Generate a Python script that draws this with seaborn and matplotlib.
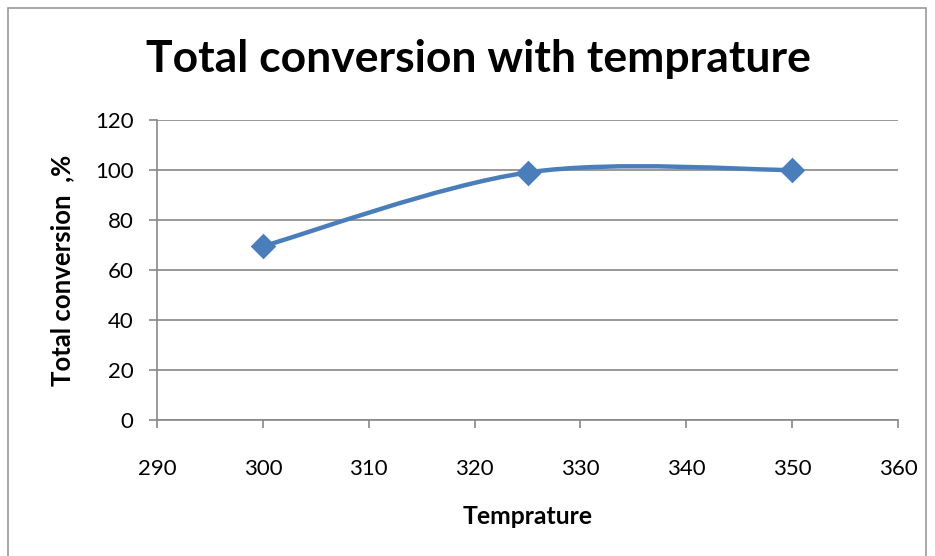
import matplotlib
matplotlib.use("Agg")
import matplotlib.pyplot as plt
import seaborn as sns
import numpy as np
import pandas as pd
from matplotlib.path import Path
from matplotlib.patches import PathPatch, Rectangle

# Data
temperature = [300, 325, 350]
conversion = [69.5, 99, 100]
x_ticks = [290, 300, 310, 320, 330, 340, 350, 360]
y_ticks = [0, 20, 40, 60, 80, 100, 120]
title = "Total conversion with temprature"
x_label = "Temprature"
y_label = "Total conversion  ,%"

sns.set_theme(style="white")
plt.rcParams['font.family'] = ['Lato', 'DejaVu Sans']

BLUE = "#4A7EBB"
GRID = "#888888"

fig = plt.figure(figsize=(9.35, 5.56), dpi=100)
ax = fig.add_axes([157/935, 1-420/556, (898-157)/935, 300/556])

df = pd.DataFrame({"T": temperature, "C": conversion})

# Smoothed line (Excel-style Catmull-Rom Bezier) built from the data points
pts = np.column_stack([temperature, conversion]).astype(float)
n = len(pts)
verts = [tuple(pts[0])]
codes = [Path.MOVETO]
for i in range(n - 1):
    p0 = pts[i - 1] if i > 0 else pts[i]
    p1 = pts[i]
    p2 = pts[i + 1]
    p3 = pts[i + 2] if i + 2 < n else pts[i + 1]
    c1 = p1 + (p2 - p0) / 6
    c2 = p2 - (p3 - p1) / 6
    verts += [tuple(c1), tuple(c2), tuple(p2)]
    codes += [Path.CURVE4] * 3
ax.add_patch(PathPatch(Path(verts, codes), facecolor="none", edgecolor=BLUE,
                       lw=3.2, capstyle="round", joinstyle="round", zorder=3))

sns.scatterplot(data=df, x="T", y="C", ax=ax, marker="D", s=170, color=BLUE,
                edgecolor=BLUE, linewidth=0, zorder=4, legend=False)

ax.set_xlim(290, 360)
ax.set_ylim(0, 120)
ax.set_xticks(x_ticks)
ax.set_yticks(y_ticks)
ax.set_xticklabels([str(v) for v in x_ticks])
ax.set_yticklabels([str(v) for v in y_ticks])

ax.yaxis.grid(True, color=GRID, lw=1.2)
ax.xaxis.grid(False)
ax.set_axisbelow(True)
for s in ["top", "right"]:
    ax.spines[s].set_visible(False)
for s in ["left", "bottom"]:
    ax.spines[s].set_color(GRID)
    ax.spines[s].set_linewidth(1.2)

ax.tick_params(axis="both", which="major", direction="out", length=6, width=1.2,
               color=GRID, labelsize=16, labelcolor="black")
ax.tick_params(axis="x", pad=22, bottom=True)
ax.tick_params(axis="y", pad=11, left=True)

ax.set_xlabel(x_label, fontsize=17.8, fontweight="bold", labelpad=19, color="black")
ax.set_ylabel(y_label, fontsize=18.5, fontweight="bold", labelpad=15, color="black")

fig.text(478/935, 1-59/556, title, ha="center", va="center",
         fontsize=32, fontweight="bold", color="black")

# Outer chart border
fig.patches.append(Rectangle((8/935, -0.01), (926-8)/935, 1 - 8/556 + 0.01,
                             transform=fig.transFigure, fill=False,
                             edgecolor="#999999", lw=1.2))

fig.savefig("out.png", dpi=100)
